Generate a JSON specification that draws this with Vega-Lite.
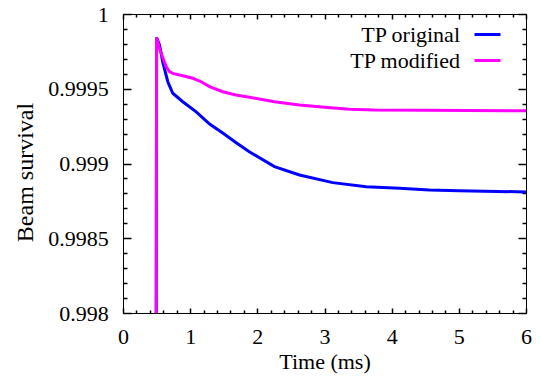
{
  "$schema": "https://vega.github.io/schema/vega-lite/v6.json",
  "autosize": {"type": "none"},
  "padding": {"left": 123, "top": 14, "right": 15, "bottom": 65},
  "width": 403,
  "height": 299,
  "background": "white",
  "config": {
    "view": {"stroke": "black", "strokeWidth": 1},
    "axis": {
      "grid": false,
      "domain": false,
      "ticks": true,
      "tickColor": "black",
      "tickWidth": 1.5,
      "labelFont": "Liberation Serif",
      "labelFontSize": 22,
      "labelColor": "black",
      "titleFont": "Liberation Serif",
      "titleFontSize": 22,
      "titleFontWeight": "normal",
      "titleColor": "black"
    },
    "legend": {
      "labelFont": "Liberation Serif",
      "labelFontSize": 22,
      "labelColor": "black"
    }
  },
  "datasets": {
    "survival": [
      {"series": "TP original", "t": 0.495, "v": 0.998},
      {"series": "TP original", "t": 0.5, "v": 0.999842},
      {"series": "TP original", "t": 0.543, "v": 0.999793},
      {"series": "TP original", "t": 0.568, "v": 0.999737},
      {"series": "TP original", "t": 0.59, "v": 0.999681},
      {"series": "TP original", "t": 0.667, "v": 0.999547},
      {"series": "TP original", "t": 0.741, "v": 0.99947},
      {"series": "TP original", "t": 0.89, "v": 0.999413},
      {"series": "TP original", "t": 1.09, "v": 0.999345},
      {"series": "TP original", "t": 1.29, "v": 0.999264},
      {"series": "TP original", "t": 1.49, "v": 0.999202},
      {"series": "TP original", "t": 1.68, "v": 0.99914},
      {"series": "TP original", "t": 1.88, "v": 0.999079},
      {"series": "TP original", "t": 2.255, "v": 0.998979},
      {"series": "TP original", "t": 2.628, "v": 0.998923},
      {"series": "TP original", "t": 3.123, "v": 0.998872},
      {"series": "TP original", "t": 3.621, "v": 0.998845},
      {"series": "TP original", "t": 4.116, "v": 0.998834},
      {"series": "TP original", "t": 4.563, "v": 0.998823},
      {"series": "TP original", "t": 5.0, "v": 0.998817},
      {"series": "TP original", "t": 6.0, "v": 0.99881},
      {"series": "TP modified", "t": 0.495, "v": 0.998},
      {"series": "TP modified", "t": 0.5, "v": 0.999842},
      {"series": "TP modified", "t": 0.543, "v": 0.999771},
      {"series": "TP modified", "t": 0.568, "v": 0.999737},
      {"series": "TP modified", "t": 0.643, "v": 0.999648},
      {"series": "TP modified", "t": 0.692, "v": 0.999614},
      {"series": "TP modified", "t": 0.741, "v": 0.999603},
      {"series": "TP modified", "t": 0.89, "v": 0.999587},
      {"series": "TP modified", "t": 1.039, "v": 0.99957},
      {"series": "TP modified", "t": 1.164, "v": 0.999547},
      {"series": "TP modified", "t": 1.288, "v": 0.999514},
      {"series": "TP modified", "t": 1.486, "v": 0.99948},
      {"series": "TP modified", "t": 1.68, "v": 0.999458},
      {"series": "TP modified", "t": 1.883, "v": 0.999443},
      {"series": "TP modified", "t": 2.255, "v": 0.999413},
      {"series": "TP modified", "t": 2.628, "v": 0.999391},
      {"series": "TP modified", "t": 3.0, "v": 0.999376},
      {"series": "TP modified", "t": 3.372, "v": 0.999363},
      {"series": "TP modified", "t": 3.744, "v": 0.999358},
      {"series": "TP modified", "t": 4.5, "v": 0.999356},
      {"series": "TP modified", "t": 6.0, "v": 0.999353}
    ]
  },
  "data": {"name": "survival"},
  "resolve": {"axis": {"x": "independent", "y": "independent"}},
  "layer": [
    {
      "mark": {"type": "line", "strokeWidth": 3, "clip": true},
      "encoding": {
        "x": {
          "field": "t",
          "type": "quantitative",
          "scale": {"domain": [0, 6], "nice": false, "zero": false},
          "axis": {
            "orient": "bottom",
            "title": "Time (ms)",
            "titlePadding": 4,
            "values": [0, 1, 2, 3, 4, 5, 6],
            "format": "d",
            "tickSize": -5,
            "labelPadding": 18.5,
            "labelFlush": false,
            "labelOverlap": false
          }
        },
        "y": {
          "field": "v",
          "type": "quantitative",
          "scale": {"domain": [0.998, 1], "nice": false, "zero": false},
          "axis": {
            "orient": "left",
            "title": "Beam survival",
            "titleFontSize": 24,
            "titlePadding": 10,
            "titleY": 158,
            "values": [0.998, 0.9985, 0.999, 0.9995, 1],
            "labelExpr": "toString(datum.value)",
            "tickSize": -8,
            "labelPadding": 22.7,
            "labelFlush": false,
            "labelOverlap": false
          }
        },
        "color": {
          "field": "series",
          "type": "nominal",
          "sort": ["TP original", "TP modified"],
          "scale": {"domain": ["TP original", "TP modified"], "range": ["#0000ff", "#ff00ff"]},
          "legend": {
            "title": null,
            "orient": "none",
            "legendX": 350,
            "legendY": 6,
            "symbolType": "stroke",
            "symbolSize": 676,
            "symbolStrokeWidth": 3,
            "labelAlign": "right",
            "labelOffset": -42,
            "rowPadding": 0
          }
        }
      }
    },
    {
      "mark": {"type": "line", "opacity": 0},
      "encoding": {
        "x": {
          "field": "t",
          "type": "quantitative",
          "axis": {"orient": "top", "title": null, "labels": false, "values": [0, 1, 2, 3, 4, 5, 6], "tickSize": -5}
        },
        "y": {
          "field": "v",
          "type": "quantitative",
          "axis": {"orient": "right", "title": null, "labels": false, "values": [0.998, 0.9985, 0.999, 0.9995, 1], "tickSize": -8}
        },
        "detail": {"field": "series", "type": "nominal"}
      }
    },
    {
      "mark": {"type": "line", "opacity": 0},
      "encoding": {
        "x": {
          "field": "t",
          "type": "quantitative",
          "axis": {"orient": "bottom", "title": null, "labels": false, "values": [0.2, 0.4, 0.6, 0.8, 1.2, 1.4, 1.6, 1.8, 2.2, 2.4, 2.6, 2.8, 3.2, 3.4, 3.6, 3.8, 4.2, 4.4, 4.6, 4.8, 5.2, 5.4, 5.6, 5.8], "tickSize": -3}
        },
        "y": {
          "field": "v",
          "type": "quantitative",
          "axis": {"orient": "left", "title": null, "labels": false, "values": [0.9981, 0.9982, 0.9983, 0.9984, 0.9986, 0.9987, 0.9988, 0.9989, 0.9991, 0.9992, 0.9993, 0.9994, 0.9996, 0.9997, 0.9998, 0.9999], "tickSize": -4}
        },
        "detail": {"field": "series", "type": "nominal"}
      }
    },
    {
      "mark": {"type": "line", "opacity": 0},
      "encoding": {
        "x": {
          "field": "t",
          "type": "quantitative",
          "axis": {"orient": "top", "title": null, "labels": false, "values": [0.2, 0.4, 0.6, 0.8, 1.2, 1.4, 1.6, 1.8, 2.2, 2.4, 2.6, 2.8, 3.2, 3.4, 3.6, 3.8, 4.2, 4.4, 4.6, 4.8, 5.2, 5.4, 5.6, 5.8], "tickSize": -3}
        },
        "y": {
          "field": "v",
          "type": "quantitative",
          "axis": {"orient": "right", "title": null, "labels": false, "values": [0.9981, 0.9982, 0.9983, 0.9984, 0.9986, 0.9987, 0.9988, 0.9989, 0.9991, 0.9992, 0.9993, 0.9994, 0.9996, 0.9997, 0.9998, 0.9999], "tickSize": -4}
        },
        "detail": {"field": "series", "type": "nominal"}
      }
    }
  ]
}
